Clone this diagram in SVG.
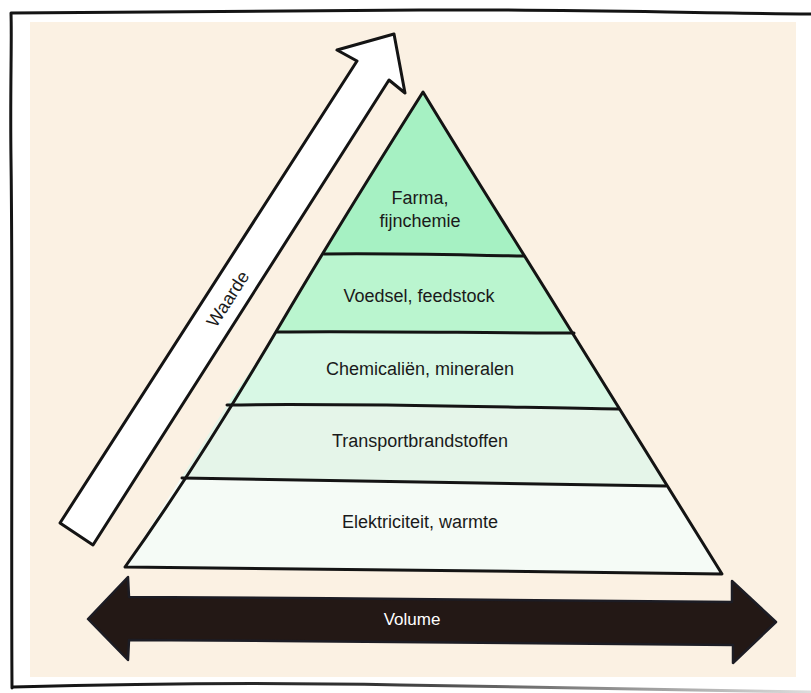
<svg xmlns="http://www.w3.org/2000/svg" width="811" height="693" viewBox="0 0 811 693">
  <defs>
    <linearGradient id="fade" x1="0" y1="0" x2="1" y2="0">
      <stop offset="0" stop-color="#111"/>
      <stop offset="0.45" stop-color="#333"/>
      <stop offset="1" stop-color="#ddd"/>
    </linearGradient>
    <style>
      .ink { fill: none; stroke: #141414; stroke-width: 3; stroke-linejoin: round; stroke-linecap: round; }
      .lbl { font-family: "Liberation Sans", Arial, sans-serif; font-size: 18px; fill: #1a1a1a; text-anchor: middle; }
      .vol { font-family: "Liberation Sans", Arial, sans-serif; font-size: 17px; fill: #ffffff; text-anchor: middle; }
    </style>
  </defs>

  <!-- paper -->
  <rect x="0" y="0" width="811" height="693" fill="#ffffff"/>
  <rect x="30" y="22" width="766" height="655" fill="#fbf1e3"/>

  <!-- hand-drawn frame -->
  <g id="frame">
    <path class="ink" d="M12,688 C11,520 13,300 11,160 C10,90 12,40 11,13 C120,11 260,12 420,10 C560,9 680,13 811,14"/>
    <path d="M13,687 C120,684 260,682 400,685 C540,688 680,690 811,692" fill="none" stroke="url(#fade)" stroke-width="3" stroke-linecap="round"/>
  </g>

  <!-- pyramid layers -->
  <g id="layer-farma">
    <polygon points="423,92 322,254 524,256" fill="#a6f1c3"/>
    <text class="lbl" x="420" y="204">Farma,</text>
    <text class="lbl" x="420" y="227">fijnchemie</text>
  </g>
  <g id="layer-voedsel">
    <polygon points="322,254 524,256 573,333 277,332" fill="#baf5cf"/>
    <text class="lbl" x="419" y="302">Voedsel, feedstock</text>
  </g>
  <g id="layer-chemicalien">
    <polygon points="277,332 573,333 619,409 227,405" fill="#d8f8e5"/>
    <text class="lbl" x="420" y="375">Chemicaliën, mineralen</text>
  </g>
  <g id="layer-transport">
    <polygon points="227,405 619,409 667,486 181,478" fill="#e5f5e9"/>
    <text class="lbl" x="420" y="447">Transportbrandstoffen</text>
  </g>
  <g id="layer-elektriciteit">
    <polygon points="181,478 667,486 722,574 125,567" fill="#f5fbf6"/>
    <text class="lbl" x="420" y="528">Elektriciteit, warmte</text>
  </g>

  <!-- pyramid outline and dividing lines -->
  <g id="pyramid-lines">
    <path class="ink" d="M423,92 C380,160 330,240 280,325 C230,410 180,490 125,567 C300,569 520,571 722,574 C680,505 620,410 560,313 C510,232 470,170 423,92 Z"/>
    <path class="ink" d="M324,254 C390,253 460,255 524,256"/>
    <path class="ink" d="M277,332 C370,331 480,333 574,333"/>
    <path class="ink" d="M227,405 C350,403 490,407 619,409"/>
    <path class="ink" d="M182,478 C320,479 500,484 666,486"/>
  </g>

  <!-- axes -->
  <g id="axis-waarde">
    <path d="M60,523 L357,61 L337,50 L394,34 L405,93 L389,80 L93,545 Z" fill="#ffffff" stroke="#141414" stroke-width="3" stroke-linejoin="round"/>
    <text class="lbl" transform="translate(228,299) rotate(-57)" x="0" y="6">Waarde</text>
  </g>
  <g id="axis-volume">
    <path d="M88,619 L128,577 L129,597 C330,598 530,600 732,602 L732,581 L776,622 L733,663 L733,645 C530,643 330,641 129,640 L128,660 Z" fill="#231815" stroke="#1c1c24" stroke-width="2.5" stroke-linejoin="round"/>
    <text class="vol" x="412" y="625">Volume</text>
  </g>
</svg>
